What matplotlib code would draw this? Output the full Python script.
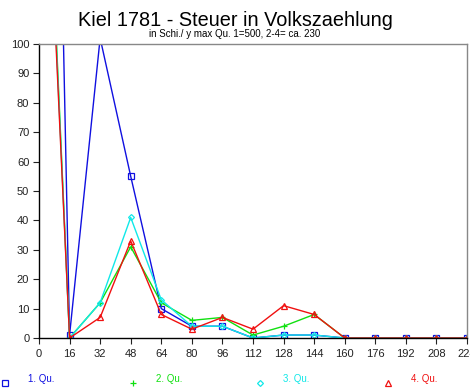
import matplotlib.pyplot as plt
from matplotlib.lines import Line2D

plt.rcParams['font.family'] = ['Liberation Sans', 'DejaVu Sans']

# tax classes (Schilling), one value per class for each quarter
steuer = [0, 16, 32, 48, 64, 80, 96, 112, 128, 144, 160, 176, 192, 208, 224]
qu1 = [500, 1, 102, 55, 10, 4, 4, 0, 1, 1, 0, 0, 0, 0, 0]
qu2 = [235, 0, 12, 31, 12, 6, 7, 1, 4, 8, 0, 0, 0, 0, 0]
qu3 = [230, 0, 12, 41, 13, 4, 4, 0, 1, 1, 0, 0, 0, 0, 0]
qu4 = [225, 0, 7, 33, 8, 3, 7, 3, 11, 8, 0, 0, 0, 0, 0]

labels = ['1. Qu.', '2. Qu.', '3. Qu.', '4. Qu.']
colors = ['#1010e0', '#10e010', '#10e8e8', '#f01010']
markers = ['s', '+', 'D', '^']
msizes = [4, 5, 3, 4.5]

fig = plt.figure(figsize=(4.7, 3.89), dpi=100)
ax = fig.add_axes([39 / 470, 1 - 338 / 389, 428 / 470, 294 / 389])

for vals, col, mk, ms in zip([qu1, qu2, qu3, qu4], colors, markers, msizes):
    ax.plot(steuer, vals, color=col, lw=1, marker=mk, ms=ms,
            mfc='none', mec=col, mew=0.9)

ax.set_xlim(0, 224)
ax.set_ylim(0, 100)
ax.set_xticks(steuer)
ax.set_yticks(range(0, 101, 10))
ax.tick_params(labelsize=8, length=4, width=0.8, direction='out', pad=3,
               colors='#222222')
ax.tick_params(axis='x', pad=4)
for s in ['top', 'right']:
    ax.spines[s].set_color('#888888')
for s in ['left', 'bottom']:
    ax.spines[s].set_color('black')
for s in ax.spines.values():
    s.set_linewidth(1)

fig.text(0.5, 1 - 20 / 389, 'Kiel 1781 - Steuer in Volkszaehlung',
         ha='center', va='center', fontsize=14.3)
fig.text(0.5, 1 - 34 / 389, 'in Schi./ y max Qu. 1=500, 2-4= ca. 230',
         ha='center', va='center', fontsize=7)

# legend row along the bottom edge
for i, (lab, col, mk, ms) in enumerate(zip(labels, colors, markers, msizes)):
    x0 = (5 + 127.5 * i) / 470
    fig.add_artist(Line2D([x0], [1 - 383 / 389], marker=mk, ms=ms,
                          mfc='none', mec=col, mew=0.9, ls='none',
                          transform=fig.transFigure))
    fig.text(x0 + 23 / 470, 1 - 379 / 389, lab, color=col,
             ha='left', va='center', fontsize=7)

fig.savefig('out.png', dpi=100)
